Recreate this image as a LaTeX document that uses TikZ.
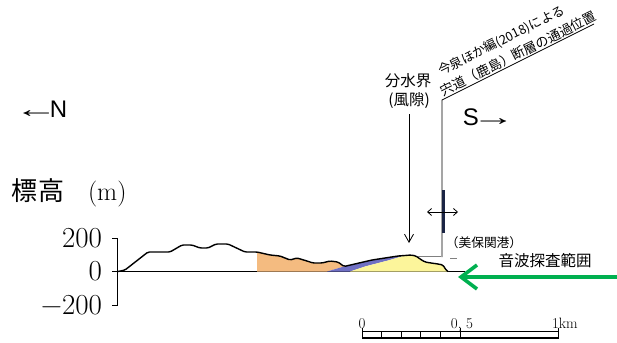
\documentclass[tikz,border=0pt]{standalone}
\usepackage{fontspec}
\usepackage{graphicx}
\newfontfamily\jpfont{Noto Sans CJK JP}
\newfontfamily\arialfont{Liberation Sans}
\usetikzlibrary{arrows.meta}

\definecolor{hillorange}{RGB}{244,187,128}
\definecolor{layerblue}{RGB}{112,112,196}
\definecolor{sandyellow}{RGB}{252,245,155}
\definecolor{surveygreen}{RGB}{0,176,80}
\definecolor{faultnavy}{RGB}{26,36,68}

\newcommand{\fsz}[1]{\fontsize{#1}{#1}\selectfont}
\newcommand{\widearrow}[1]{\scalebox{1.8}[1]{#1}}

\begin{document}
\begin{tikzpicture}[x=1pt,y=-1pt,
  txt/.style={inner sep=0pt, outer sep=0pt},
  jp/.style={txt, font=\jpfont\fsz{#1}},
  num/.style={txt, font=\fsz{#1}},
  thinline/.style={line width=0.8pt, black},
  profile/.style={line width=1.4pt, black, line join=round, rounded corners=1.5pt},
  pointer/.style={thinline, -{Straight Barb[length=8pt,width=9pt]}},
  motion/.style={thinline, {Straight Barb[length=4pt,width=7pt]}-{Straight Barb[length=4pt,width=7pt]}},
  survey/.style={surveygreen, line width=3.6pt, -{Straight Barb[length=16pt,width=24pt]}},
]
\useasboundingbox (0,0) rectangle (617,342);

% compass directions
\node[txt, font=\arialfont\fsz{24}] (north) at (41,109) {\widearrow{←}\kern-8pt N};
\node[txt, font=\arialfont\fsz{24}] (south) at (489,117) {S\kern-7pt\widearrow{→}};

% elevation axis
\node[txt, font=\fsz{26}, anchor=west] (ylabel) at (12,193) {{\jpfont 標高}\hspace{24pt}(m)};
\node[num=29, anchor=east] (yp) at (102,238) {200};
\node[num=29, anchor=east] (yz) at (102,271.5) {0};
\node[num=29, anchor=east] (ym) at (102,305) {−200};
\coordinate (atop) at (117,238);
\coordinate (abot) at (117,305);
\coordinate (azero) at (112,271.5);
\coordinate (aend) at (465,271.5);
\draw[thinline] (112,238) -- (atop) -- (abot) -- (112,305);
\draw[thinline] (azero) -- (aend);

% geological units
\fill[hillorange] (257,271.5) -- (257,252) -- (270,255) -- (280,256) -- (290,260) -- (297,258)
  -- (307,261) -- (313,263) -- (322,263) -- (330,261) -- (338,262) -- (344,266.5) -- (327,271.5) -- cycle;
\fill[layerblue] (327,271.5) -- (344,266.5) -- (372,260) -- (398,256) -- (405,255.5)
  -- (388,260.5) -- (365,266.5) -- (350,271.5) -- cycle;
\fill[sandyellow] (350,271.5) -- (365,266.5) -- (388,260.5) -- (405,255.5) -- (411,255) -- (416,256)
  -- (420,259) -- (425,262) -- (431,263) -- (438,264) -- (443,265) -- (446,270) -- (448,271.5) -- cycle;

% ground surface profile
\draw[profile] (118,271.5) -- (125,270) -- (148,252) -- (170,252) -- (182,245) -- (192,245)
  -- (200,248) -- (208,248) -- (216,244) -- (228,244) -- (245,252) -- (257,252)
  -- (270,255) -- (280,256) -- (290,260) -- (297,258) -- (307,261) -- (313,263) -- (322,263)
  -- (330,261) -- (338,262) -- (344,266.5) -- (372,260) -- (398,256) -- (405,255.5) -- (411,255)
  -- (416,256) -- (420,259) -- (425,262) -- (431,263) -- (438,264) -- (443,265) -- (446,270) -- (448,271.5);
\draw[gray, line width=0.6pt] (418,256.5) -- (441,256.5);
\draw[gray, line width=0.6pt] (450,258) -- (457,258);

% drainage divide (wind gap)
\node[jp=15.5] (divide) at (408,81) {分水界};
\node[jp=15.5] (windgap) at (409,101) {(風隙)};
\coordinate (dtop) at (409,114);
\coordinate (dtip) at (409,243);
\draw[pointer] (dtop) -- (dtip);

% fault position and its leader
\coordinate (fbase) at (442,257);
\coordinate (fknee) at (442,100);
\coordinate (fend) at (594,24);
\draw[thinline] (fbase) -- (fknee) -- (fend);
\node[jp=12.8, rotate=26.5] (src) at (501.5,41) {今泉ほか編(2018)による};
\node[jp=13.2, rotate=26.5] (fault) at (518.5,53.5) {宍道（鹿島）断層の通過位置};
\coordinate (ttop) at (443.5,190);
\coordinate (tbot) at (443.5,233);
\draw[faultnavy, line width=2.4pt] (ttop) -- (tbot);
\coordinate (ml) at (427,212);
\coordinate (mr) at (458,212);
\draw[motion] (ml) -- (mr);

% port and survey range
\node[jp=12.7] (port) at (484,243) {（美保関港）};
\node[jp=15.5] (range) at (545,261) {音波探査範囲};
\coordinate (gstart) at (617,277);
\coordinate (gtip) at (458,277);
\draw[survey] (gstart) -- (gtip);

% scale bar
\coordinate (s0) at (362,331.5);
\coordinate (s1) at (558,331.5);
\draw[line width=0.7pt] (s0) -- (s1);
\draw[line width=2.6pt] (362,338) -- (558,338);
\foreach \t in {381.6,401.2,420.8,440.4} \draw[line width=0.7pt] (\t,331.5) -- (\t,338);
\foreach \t in {362,460,558} \draw[line width=0.8pt] (\t,327.5) -- (\t,339);
\node[num=15, anchor=base] (sc0) at (362,328.5) {0};
\node[num=15, anchor=base] (sc5) at (462,328.5) {0, 5};
\node[num=15, anchor=base west] (sc1) at (552,328.5) {1km};
\end{tikzpicture}
\end{document}
